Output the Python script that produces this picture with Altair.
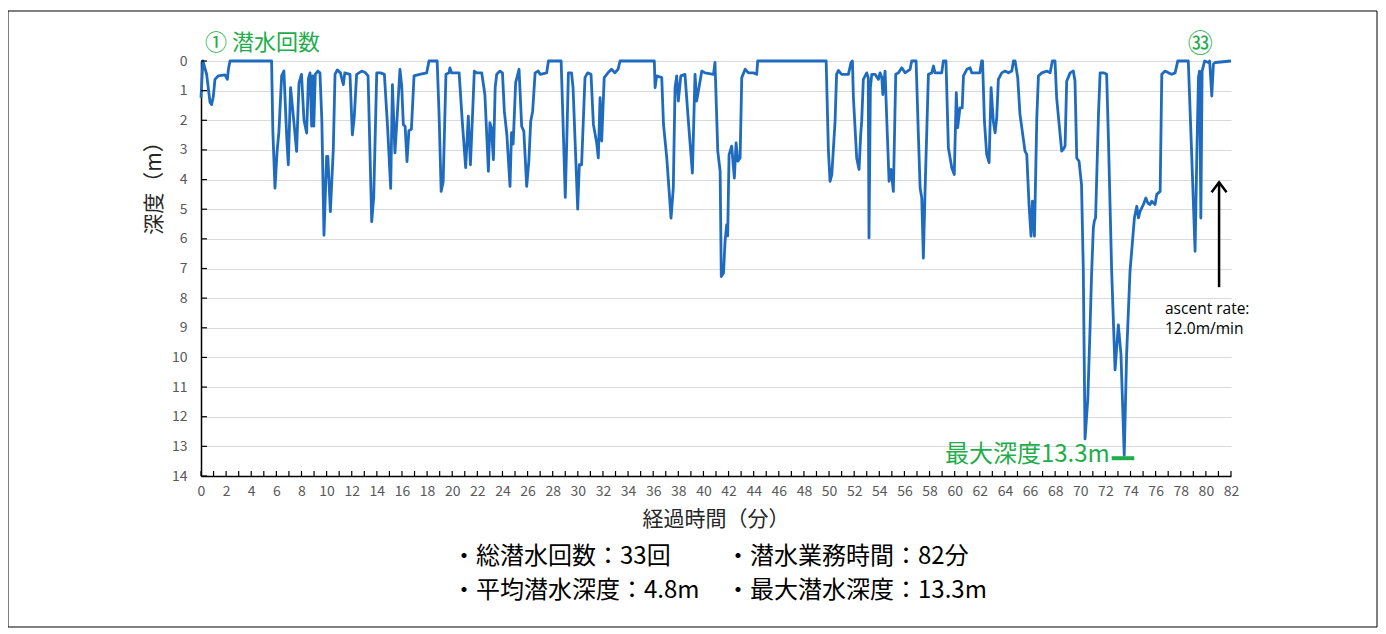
import altair as alt
import pandas as pd

# ---- data ----
times = [0, 0.15, 0.45, 0.72, 0.85, 0.98, 1.11, 1.38, 1.91, 2.1, 2.18, 2.31, 5.62, 5.72, 5.89, 6.05, 6.2, 6.42, 6.6,
         6.82, 6.95, 7.13, 7.3, 7.45, 7.61, 7.8, 8.0, 8.2, 8.41, 8.55, 8.68, 8.81, 8.9, 8.98, 9.1, 9.3, 9.47, 9.62,
         9.79, 10.0, 10.1, 10.3, 10.53, 10.67, 10.85, 11.1, 11.33, 11.45, 11.86, 12.05, 12.2, 12.39, 12.8, 13.1,
         13.3, 13.59, 13.75, 13.99, 14.3, 14.6, 14.85, 15.1, 15.24, 15.44, 15.6, 15.84, 15.98, 16.11, 16.25, 16.4,
         16.55, 16.75, 16.96, 17.4, 17.97, 18.15, 18.8, 18.95, 19.12, 19.28, 19.5, 19.75, 19.82, 19.95, 20.55,
         20.8, 21.07, 21.28, 21.45, 21.6, 21.76, 21.95, 22.35, 22.6, 22.88, 23.0, 23.12, 23.28, 23.42, 23.54,
         23.8, 24.0, 24.15, 24.35, 24.6, 24.72, 24.85, 25.05, 25.32, 25.53, 25.7, 25.93, 26.1, 26.25, 26.4, 26.6,
         26.85, 27.0, 27.52, 27.66, 28.67, 28.78, 29.0, 29.12, 29.25, 29.5, 29.62, 29.99, 30.12, 30.3, 30.57,
         30.78, 31.05, 31.24, 31.5, 31.63, 31.77, 31.9, 32.1, 32.4, 32.68, 32.95, 33.2, 33.36, 36.09, 36.15,
         36.28, 36.68, 36.82, 37.08, 37.42, 37.6, 37.74, 37.87, 38.0, 38.2, 38.53, 38.8, 39.12, 39.33, 39.46,
         39.87, 40.13, 40.8, 40.92, 41.14, 41.33, 41.42, 41.6, 41.72, 41.85, 41.93, 42.04, 42.25, 42.46, 42.6,
         42.74, 42.92, 43.05, 43.32, 43.58, 43.98, 44.24, 44.32, 49.77, 49.95, 50.08, 50.22, 50.48, 50.6, 50.74,
         51.0, 51.54, 51.75, 51.86, 51.94, 52.2, 52.39, 52.52, 52.6, 52.73, 53.0, 53.12, 53.18, 53.29, 53.4,
         53.66, 53.93, 54.06, 54.2, 54.28, 54.46, 54.6, 54.78, 54.94, 55.12, 55.31, 55.52, 55.79, 56.05, 56.45,
         56.58, 56.93, 57.12, 57.25, 57.38, 57.51, 57.65, 57.91, 58.18, 58.31, 58.44, 58.97, 59.1, 59.31, 59.5,
         59.77, 59.97, 60.13, 60.24, 60.42, 60.6, 60.7, 60.97, 61.23, 61.36, 62.0, 62.15, 62.22, 62.37, 62.55,
         62.74, 62.9, 63.08, 63.22, 63.35, 63.48, 63.75, 64.01, 64.28, 64.55, 64.68, 64.81, 65.02, 65.2, 65.6,
         65.74, 65.92, 66.08, 66.19, 66.35, 66.54, 66.67, 66.94, 67.34, 67.6, 67.78, 67.99, 68.12, 68.52, 68.65,
         68.79, 68.92, 69.19, 69.45, 69.58, 69.72, 69.9, 70.1, 70.24, 70.38, 70.6, 70.78, 70.9, 71.04, 71.12,
         71.22, 71.45, 71.58, 71.85, 72.1, 72.24, 72.5, 72.77, 73.03, 73.24, 73.5, 73.69, 73.96, 74.31, 74.5,
         74.63, 74.76, 75.03, 75.22, 75.38, 75.56, 75.69, 75.95, 76.09, 76.22, 76.36, 76.49, 76.75, 77.02, 77.28,
         77.55, 77.76, 78.6, 78.87, 79.14, 79.28, 79.41, 79.5, 79.6, 79.7, 79.9, 80.2, 80.3, 80.47, 80.6, 80.74,
         82.0]
depths = [1.24, 0.0, 0.45, 1.4, 1.47, 1.2, 0.62, 0.5, 0.47, 0.62, 0.28, 0.0, 0.0, 2.37, 4.29, 3.1, 2.4, 0.5, 0.34,
          2.54, 3.5, 0.9, 1.64, 2.3, 3.05, 0.75, 0.45, 2.0, 2.43, 0.6, 0.4, 2.2, 0.5, 2.2, 0.45, 0.34, 0.4, 2.0,
          5.88, 3.22, 3.22, 5.08, 3.0, 0.45, 0.3, 0.4, 0.8, 0.4, 0.45, 2.49, 1.9, 0.45, 0.34, 0.4,
          0.5, 5.42, 4.6, 0.4, 0.4, 0.45, 2.2, 4.3, 0.8, 3.1, 2.0, 0.28, 0.85, 2.15, 2.2, 3.39,
          2.35, 2.3, 0.5, 0.45, 0.4, 0.0, 0.0, 1.75, 4.4, 4.07, 0.45, 0.4, 0.23, 0.4, 0.4,
          2.03, 3.6, 1.86, 3.5, 2.0, 0.34, 0.4, 0.4, 1.13, 3.72, 2.08, 2.25, 3.33, 0.9, 0.45,
          0.34, 0.4, 1.7, 2.48, 4.23, 2.42, 2.8, 0.73, 0.28, 2.2, 2.37, 4.23, 3.38, 2.03, 1.7, 0.4,
          0.34, 0.45, 0.4, 0.0, 0.0, 1.47, 4.6, 2.7, 0.4, 0.4, 0.9, 5.0, 3.5, 3.5, 0.56,
          0.4, 0.45, 2.14, 2.76, 3.27, 1.24, 2.7, 0.56, 0.4, 0.28, 0.4, 0.28, 0.0, 0.0, 0.9,
          0.5, 0.56, 2.14, 3.27, 5.3, 4.28, 0.9, 0.5, 1.35, 0.5, 0.45, 2.03, 3.78, 0.45, 1.35,
          0.34, 0.4, 0.45, 0.05, 3.04, 3.72, 7.27, 7.15, 6.09, 5.52, 5.9, 3.16, 2.87, 3.95, 2.76,
          3.38, 3.27, 0.56, 0.28, 0.4, 0.4, 0.45, 0.0, 0.0, 3.04, 4.06, 3.83, 2.03, 0.45, 0.32,
          0.45, 0.45, 0.05, 0.0, 1.24, 3.27, 3.66, 2.48, 2.03, 0.62, 0.4, 0.56, 5.97, 0.9, 0.45,
          0.45, 0.62, 0.4, 0.56, 1.13, 0.34, 2.03, 4.06, 3.66, 4.4, 0.45, 0.4, 0.23, 0.4, 0.28,
          0.0, 0.0, 2.6, 4.28, 4.62, 6.65, 4.28, 0.45, 0.4, 0.17, 0.4, 0.4, 0.0, 0.0, 2.93,
          3.6, 3.83, 1.07, 2.25, 1.58, 1.58, 0.5, 0.28, 0.23, 0.4, 0.4, 0.0, 0.0, 2.03, 3.15,
          3.43, 0.9, 2.03, 2.42, 1.91, 0.62, 0.4, 0.34, 0.4, 0.34, 0.0, 0.0, 0.56, 1.8, 3.04,
          3.15, 4.84, 5.91, 4.73, 5.91, 1.91, 0.5, 0.4, 0.34, 0.4, 0.0, 0.0, 1.24, 3.04, 2.98,
          2.87, 0.68, 0.4, 0.34, 0.68, 3.27, 3.38, 4.17, 7.0, 12.75, 11.4, 9.0, 7.2, 5.63, 5.4,
          5.29, 1.8, 0.4, 0.4, 0.45, 2.6, 7.1, 10.42, 8.9, 9.9, 13.3, 9.9, 7.1, 5.29, 4.9,
          5.29, 5.07, 4.84, 4.62, 4.79, 4.84, 4.73, 4.84, 4.5, 4.45, 4.4, 0.45, 0.34, 0.4, 0.45,
          0.4, 0.0, 0.0, 3.15, 6.42, 3.15, 0.56, 0.34, 5.3, 0.34, 0.0, 0.05, 0.0, 1.18, 0.1, 0.05,
          0.0]

x_tick_labels = list(range(0, 83, 2))
x_minor_ticks = list(range(0, 83, 1))
y_ticks = list(range(0, 15, 1))

title_marker_first = "① 潜水回数"
title_marker_last = "㉝"
last_dive_time = [79.55]
max_label = "最大深度13.3m"
max_label_pos = {"t": [72.35], "d": [13.3]}
max_bar = {"t": [72.5], "t2": [74.3], "d": [13.4]}
arrow = {"t": [81.05], "d": [4.09], "d2": [7.63]}
ascent_lines = ["ascent rate:", "12.0m/min"]
x_title = "経過時間（分）"
y_title = "深度（m）"
stats_left = ["・総潜水回数：33回", "・平均潜水深度：4.8m"]
stats_right = ["・潜水業務時間：82分", "・最大潜水深度：13.3m"]

FONT = "Noto Sans CJK JP"
LATIN = "Open Sans"
BLUE = "#1f6bbf"
GREEN = "#1fad4b"
W, H = 1030, 415

xs = alt.Scale(domain=[0, 82], nice=False, zero=False)
ys = alt.Scale(domain=[0, 14], reverse=True, nice=False)
xaxis = alt.Axis(values=x_tick_labels, tickSize=0, labelPadding=8, labelFontSize=14, labelColor="#595959",
                 labelFont=FONT, domainColor="#000000", domainWidth=1.5, grid=False, title=None, labelFlush=False)
yaxis = alt.Axis(values=y_ticks, tickSize=0, labelPadding=14, labelFontSize=14, labelColor="#595959",
                 labelFont=FONT, domainColor="#000000", domainWidth=1.5, grid=True, gridColor="#d9d9d9",
                 gridWidth=1, title=None)


def X(field="t"):
    return alt.X(f"{field}:Q", scale=xs, axis=xaxis, title=None)


def Y(field="d"):
    return alt.Y(f"{field}:Q", scale=ys, axis=yaxis, title=None)


dive = pd.DataFrame({"t": times, "d": depths})

line = alt.Chart(dive).mark_line(color=BLUE, strokeWidth=2.8, strokeJoin="round").encode(x=X(), y=Y())

yt = alt.Chart(pd.DataFrame({"d": y_ticks})).mark_rule(color="#000000", strokeWidth=1.2).encode(
    y=Y(), x=alt.value(0), x2=alt.value(6))
xt = alt.Chart(pd.DataFrame({"t": x_minor_ticks})).mark_rule(color="#000000", strokeWidth=1.2).encode(
    x=X(), y=alt.value(H), y2=alt.value(H - 5))

bar = alt.Chart(pd.DataFrame(max_bar)).mark_rule(color=GREEN, strokeWidth=4).encode(
    x=X(), x2="t2:Q", y=Y())
max_text = alt.Chart(pd.DataFrame({**max_label_pos, "label": [max_label]})).mark_text(
    color=GREEN, fontSize=24, font=FONT, align="right", baseline="middle").encode(x=X(), y=Y(), text="label:N")

shaft = alt.Chart(pd.DataFrame(arrow)).mark_rule(color="#000000", strokeWidth=2.5).encode(
    x=X(), y=Y(), y2="d2:Q")
head = alt.Chart(pd.DataFrame(arrow)).mark_point(
    shape="M-0.75,1L0,0L0.75,1", filled=False, stroke="#000000", strokeWidth=2.5, size=400, opacity=1).encode(
    x=X(), y=Y())

ascent = alt.Chart(pd.DataFrame({"label": ascent_lines, "yy": [248, 268]})).mark_text(
    color="#000000", fontSize=15.5, font=LATIN, align="left", baseline="middle").encode(
    x=alt.value(964), y=alt.Y("yy:Q", scale=None), text="label:N")

first_lbl = alt.Chart(pd.DataFrame({"label": [title_marker_first]})).mark_text(
    color=GREEN, fontSize=22, font=FONT, align="left", baseline="middle").encode(
    x=alt.value(4), y=alt.value(-18), text="label:N")
last_lbl = alt.Chart(pd.DataFrame({"t": last_dive_time, "label": [title_marker_last]})).mark_text(
    color=GREEN, fontSize=25, font=FONT, align="center", baseline="middle").encode(
    x=X(), y=alt.value(-17), text="label:N")

xtitle = alt.Chart(pd.DataFrame({"label": [x_title]})).mark_text(
    color="#262626", fontSize=21, font=FONT, align="center", baseline="middle").encode(
    x=alt.value(W / 2), y=alt.value(459), text="label:N")
ytitle = alt.Chart(pd.DataFrame({"label": [y_title]})).mark_text(
    color="#262626", fontSize=21, font=FONT, align="center", baseline="middle", angle=270).encode(
    x=alt.value(-46), y=alt.value(122), text="label:N")

sl = alt.Chart(pd.DataFrame({"label": stats_left, "yy": [496, 530]})).mark_text(
    color="#000000", fontSize=24, font=FONT, align="left", baseline="middle").encode(
    x=alt.value(251), y=alt.Y("yy:Q", scale=None), text="label:N")
sr = alt.Chart(pd.DataFrame({"label": stats_right, "yy": [496, 530]})).mark_text(
    color="#000000", fontSize=24, font=FONT, align="left", baseline="middle").encode(
    x=alt.value(525), y=alt.Y("yy:Q", scale=None), text="label:N")

frame = alt.Chart(pd.DataFrame({"k": [1]})).mark_rect(
    fillOpacity=0, stroke="#000000", strokeWidth=1).encode(
    x=alt.value(-193), x2=alt.value(1176), y=alt.value(-50), y2=alt.value(566))

chart = alt.layer(
    line, yt, xt, bar, max_text, shaft, head, ascent, first_lbl, last_lbl, xtitle, ytitle, sl, sr, frame
).properties(
    width=W, height=H,
    autosize=alt.AutoSizeParams(type="none"),
    padding={"left": 193, "top": 53, "right": 147, "bottom": 152},
    background="#ffffff",
).configure_view(stroke=None)

chart.save("out.html", embed_options={"renderer": "svg", "actions": False})
